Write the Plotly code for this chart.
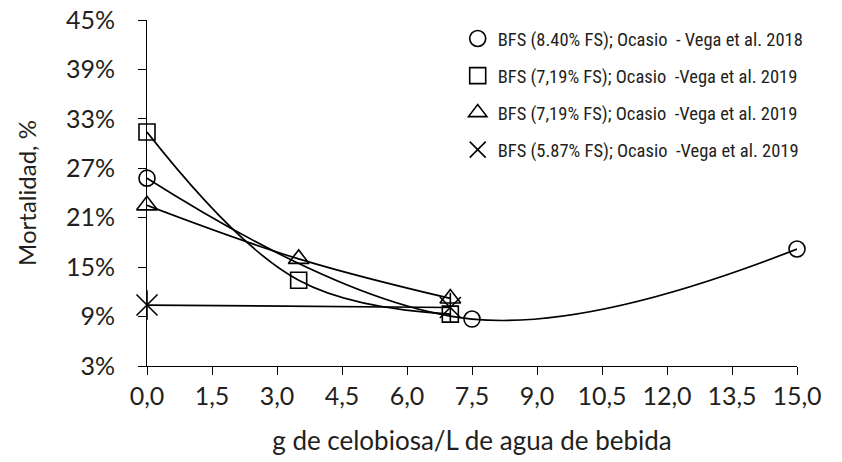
import plotly.graph_objects as go

# Data (g celobiosa/L, mortality %)
x_circle = [0.0, 7.5, 15.0]
y_circle = [25.8, 8.7, 17.2]
x_square = [0.0, 3.5, 7.0]
y_square = [31.4, 13.4, 9.3]
x_tri = [0.0, 3.5, 7.0]
y_tri = [22.5, 16.0, 11.2]
x_star = [0.0, 7.0]
y_star = [10.4, 10.1]

names = [
    "BFS (8.40% FS); Ocasio  - Vega et al. 2018",
    "BFS (7,19% FS); Ocasio  -Vega et al. 2019",
    "BFS (7,19% FS); Ocasio  -Vega et al. 2019",
    "BFS (5.87% FS); Ocasio  -Vega et al. 2019",
]
x_ticks = [0, 1.5, 3, 4.5, 6, 7.5, 9, 10.5, 12, 13.5, 15]
y_ticks = [3, 9, 15, 21, 27, 33, 39, 45]
y_ticktext = [f"{v}%" for v in y_ticks]

INK = "#231f20"
LINE = dict(color="black", width=1.7, shape="spline", smoothing=1.1)

fig = go.Figure()
series = [
    (x_circle, y_circle, "circle-open", 16, names[0], "g1"),
    (x_square, y_square, "square-open", 16, names[1], "g2"),
    (x_tri, y_tri, "triangle-up-open", 18, names[2], "g3"),
    (x_star, y_star, "x-thin-open", 21, names[3], "g4"),
]
for xs, ys, sym, sz, nm, grp in series:
    # connecting smooth line (not in legend)
    fig.add_trace(go.Scatter(
        x=xs, y=ys, mode="lines", legendgroup=grp, showlegend=False,
        line=LINE, hoverinfo="skip",
    ))
    fig.add_trace(go.Scatter(
        x=xs, y=ys, mode="markers", name=nm, legendgroup=grp,
        cliponaxis=False,
        marker=dict(symbol=sym, size=sz, color="black",
                    line=dict(color="black", width=1.6)),
    ))
# vertical stroke of the star marker
fig.add_trace(go.Scatter(
    x=x_star, y=y_star, mode="markers", legendgroup="g4", showlegend=False,
    cliponaxis=False, hoverinfo="skip",
    marker=dict(symbol="line-ns-open", size=21, color="black",
                line=dict(color="black", width=1.6)),
))

fig.update_layout(
    width=842, height=462,
    margin=dict(l=147, r=45, t=20, b=96, autoexpand=False),
    paper_bgcolor="white", plot_bgcolor="white",
    separators=",.",
    font=dict(family="Lato, Noto Sans, sans-serif", color=INK),
    legend=dict(
        x=0.478, y=1.0, xanchor="left", yanchor="top",
        bgcolor="rgba(0,0,0,0)", tracegroupgap=10,
        font=dict(family="Roboto Condensed, Roboto, sans-serif", size=18.5, color=INK),
        itemwidth=30,
    ),
    xaxis=dict(
        range=[0, 15], tickvals=x_ticks, tickformat=".1f",
        showline=True, linecolor="black", linewidth=1,
        ticks="outside", ticklen=8, tickcolor="black", tickwidth=1,
        showgrid=False, zeroline=False, ticklabelstandoff=0,
        ticklabeloverflow="allow",
        tickfont=dict(size=25),
        title=dict(text="g de celobiosa/L de agua de bebida", font=dict(size=26), standoff=22),
    ),
    yaxis=dict(
        range=[3, 45], tickvals=y_ticks, ticktext=y_ticktext,
        showline=True, linecolor="black", linewidth=1,
        ticks="outside", ticklen=8, tickcolor="black", tickwidth=1,
        showgrid=False, zeroline=False, ticklabelstandoff=18,
        ticklabeloverflow="allow",
        tickfont=dict(size=25),
        title=dict(text="Mortalidad, %", font=dict(size=24), standoff=22),
    ),
)

fig.write_html("out.html", config={"displayModeBar": False},
               post_script="document.body.style.margin='0';")
